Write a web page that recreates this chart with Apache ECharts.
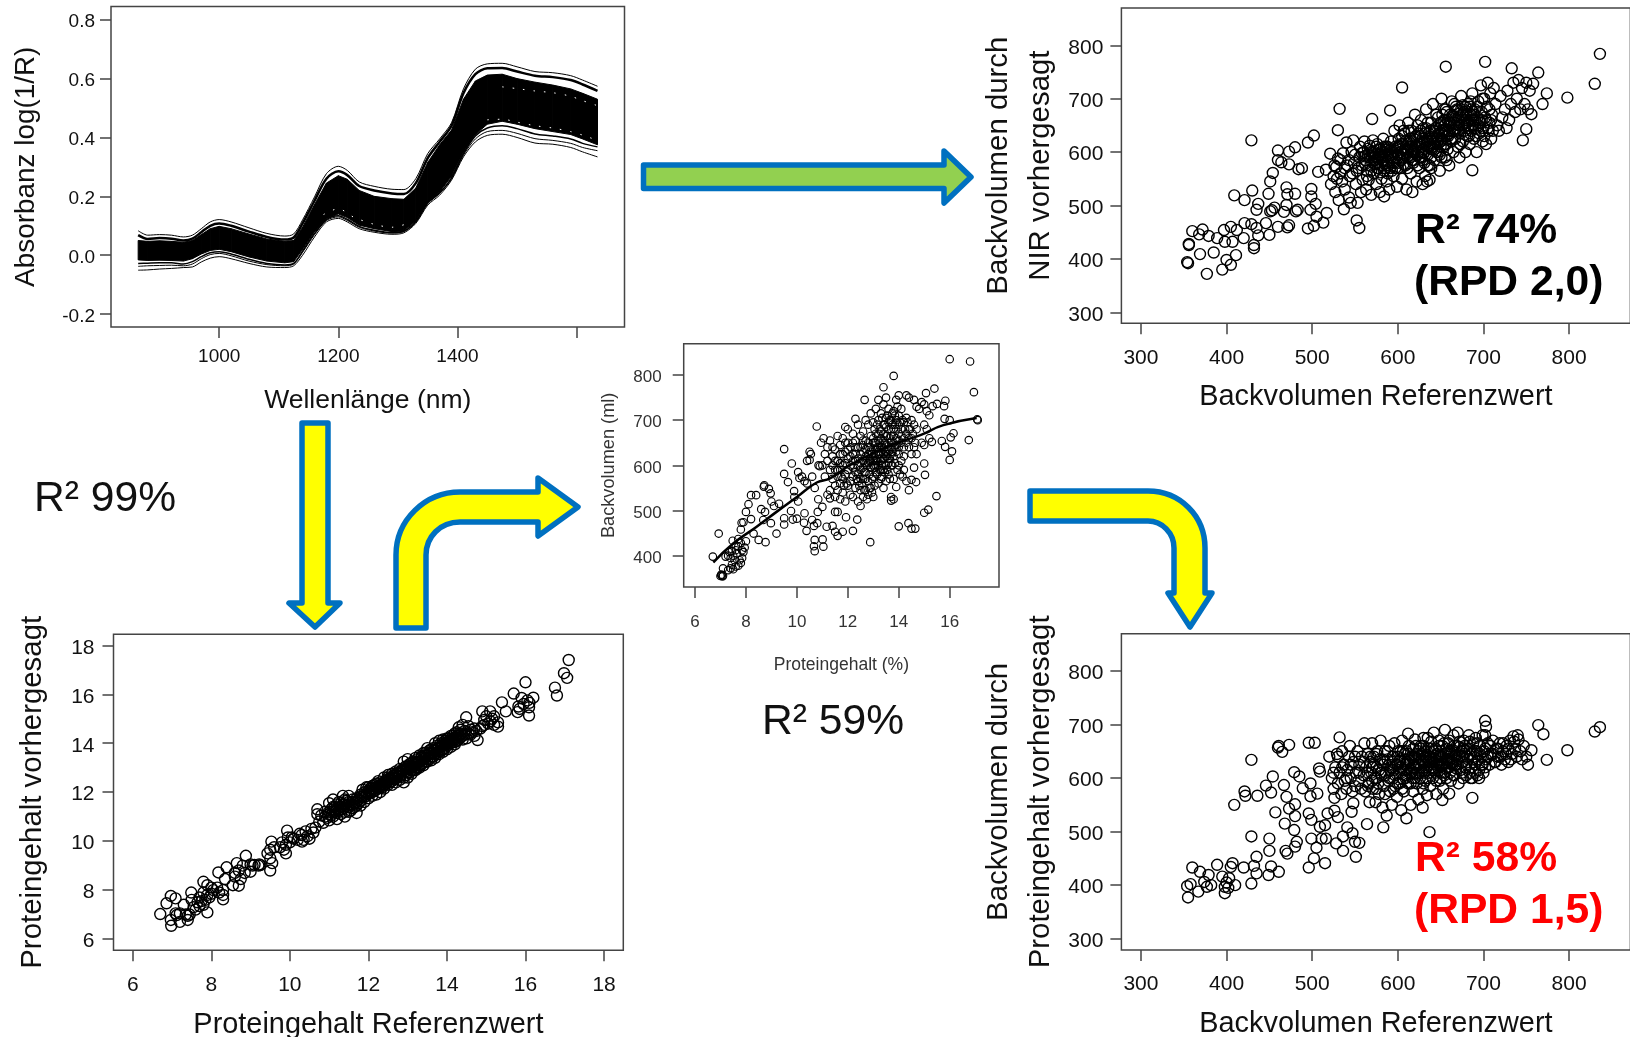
<!DOCTYPE html>
<html>
<head>
<meta charset="utf-8">
<title>Backvolumen</title>
<script src="https://cdn.jsdelivr.net/npm/echarts@6/dist/echarts.min.js"></script>
<style>
html, body { margin: 0; padding: 0; background: #fff; overflow: hidden; }
#chart { width: 1630px; height: 1037px; }
</style>
</head>
<body>
<div id="chart"></div>
<script>
// spectra
const wavelengths = [864,880,900,920,940,955,970,985,1000,1020,1050,1080,1110,1125,1140,1160,1180,1200,1215,1235,1260,1290,1310,1330,1350,1370,1390,1410,1430,1450,1475,1500,1530,1560,1590,1610,1635]
const spectrumTopA = [.083,.068,.07,.068,.062,.068,.09,.113,.121,.113,.093,.074,.065,.072,.12,.198,.277,.302,.288,.249,.234,.224,.223,.26,.345,.395,.45,.565,.632,.65,.652,.64,.624,.62,.61,.595,.574]
const spectrumTopB = [.068,.055,.058,.056,.05,.056,.078,.1,.108,.1,.08,.062,.053,.06,.108,.185,.26,.285,.272,.235,.22,.21,.208,.245,.33,.385,.44,.55,.615,.635,.636,.624,.61,.605,.595,.58,.558]
const spectrumBandHigh = [.05,.047,.049,.047,.044,.05,.07,.09,.098,.09,.072,.055,.047,.05,.095,.172,.245,.27,.258,.22,.2,.192,.19,.228,.315,.375,.425,.53,.592,.612,.615,.6,.588,.578,.565,.55,.53]
const spectrumBandLow = [-.016,-.018,-.017,-.018,-.02,-.012,.004,.016,.02,.012,-.006,-.02,-.026,-.022,.02,.08,.125,.14,.128,.102,.09,.08,.082,.115,.18,.215,.268,.35,.41,.445,.455,.445,.43,.42,.41,.395,.375]
const spectrumLowC = [-.028,-.027,-.026,-.026,-.03,-.022,-.005,.008,.012,.004,-.014,-.028,-.033,-.028,.014,.074,.121,.134,.122,.098,.085,.077,.082,.114,.178,.212,.263,.345,.405,.432,.44,.43,.412,.405,.395,.38,.368]
const spectrumLowB = [-.038,-.036,-.035,-.034,-.036,-.03,-.012,.002,.006,-.002,-.02,-.032,-.036,-.03,.01,.07,.118,.13,.118,.095,.082,.075,.08,.112,.175,.21,.26,.34,.395,.42,.424,.414,.396,.39,.38,.366,.355]
const spectrumLowA = [-.051,-.05,-.047,-.045,-.042,-.04,-.023,-.01,-.005,-.012,-.028,-.04,-.042,-.036,0,.062,.113,.125,.113,.09,.078,.071,.076,.108,.17,.204,.255,.334,.385,.407,.411,.4,.381,.377,.366,.351,.334]
// thin white gaps left in the black mass
const spectrumGapUpper = [[1475,.572],[1500,.566],[1530,.558],[1560,.552],[1590,.54],[1610,.525],[1635,.508]]
const spectrumGapLower = [[1450,.46],[1475,.462],[1500,.452],[1530,.44],[1560,.432],[1590,.42],[1610,.408],[1635,.39]]
const spectrumGapPeak = [[1175,.138],[1200,.158],[1225,.13],[1260,.105],[1290,.095],[1320,.11]]

// Backvolumen Referenzwert / durch NIR vorhergesagt
const nirPoints = [[836,784],[830,728],[798,702],[774,710],[769,690],[764,749],[756,671],[750,643],[746,622],[733,757],[702,769],[656,760],[605,721],[532,681],[530,641],[502,631],[495,618],[570,662],[591,678],[429,622],[460,603],[473,601],[480,609],[460,585],[464,581],[473,577],[484,568],[488,570],[454,561],[451,545],[430,528],[409,519],[421,510],[449,522],[470,534],[471,521],[480,522],[437,503],[435,492],[451,489],[453,491],[456,496],[470,501],[467,488],[481,489],[499,531],[499,517],[507,563],[516,567],[498,492],[504,503],[517,486],[505,479],[502,462],[513,468],[495,457],[483,492],[460,460],[450,445],[471,459],[473,463],[446,467],[421,467],[429,465],[435,458],[437,444],[432,426],[432,420],[405,460],[412,454],[397,454],[420,439],[360,452],[372,455],[368,446],[379,443],[389,439],[398,432],[407,432],[356,426],[356,428],[369,409],[385,412],[354,394],[355,392],[377,372],[395,380],[400,398],[405,389],[411,407],[552,472],[555,458],[687,566],[617,525],[584,517],[634,545],[629,540],[637,548],
[521,597],[525,555],[522,540],[528,572],[527,525],[530,588],[533,560],[531,510],[536,598],[535,545],[538,530],[537,493],[540,618],[541,575],[543,515],[544,555],[546,600],[545,505],[548,622],[549,580],[551,540],[552,565],[553,505],[555,590],[556,610],[557,525],[558,575],[559,548],[560,600],[561,620],[562,585],[563,530],[564,565],[565,595],[566,548],[567,612],[568,575],[569,520],[570,590],[571,622],[572,560],[573,600],[574,585],[575,540],[576,615],[577,570],[578,595],[579,525],[580,605],[581,550],[582,585],[583,625],[584,565],[585,600],[586,575],[587,545],[588,610],[589,590],[590,530],[591,570],[592,620],[593,600],[594,580],[595,555],[596,640],[597,610],[598,590],[599,535],[600,570],[601,625],[602,650],[603,600],[604,585],[605,550],[606,615],[607,595],[608,635],[609,575],[610,530],[611,605],[612,655],[613,620],[614,590],[615,560],[616,640],[617,600],[618,580],[619,625],[620,670],[621,610],[622,545],[623,595],[624,635],[625,570],[626,615],[627,660],[628,600],[629,585],[630,645],[631,620],[632,555],[633,680],[634,610],[635,595],[636,635],[637,575],[638,625],[639,655],[640,605],[641,690],[642,640],[643,585],[644,615],[645,670],[646,630],[647,600],[648,650],[649,565],[650,620],[651,700],[652,640],[653,610],[654,660],[655,590],[656,680],[657,630],[658,605],[659,650],[660,575],[661,670],[662,620],[663,695],[664,640],[665,600],[666,655],[667,625],[668,685],[669,645],[670,610],[671,665],[672,590],[673,635],[674,705],[675,650],[676,620],[677,675],[678,640],[679,600],[680,660],[681,630],[682,690],[683,650],[684,615],[685,670],[686,640],[687,710],[688,660],[689,625],[690,680],[691,645],[692,600],[693,665],[694,695],[695,635],[696,655],[697,725],[698,675],[699,620],[700,645],[701,700],[702,665],[703,615],[704,685],[705,730],[706,640],[707,655],[708,710],[709,625],[710,670],[712,720],[714,690],[716,650],[718,640],[720,705],[722,665],[725,680],[727,645],[728,715],[730,660],[732,690],[735,730],[737,675],[739,700],[741,735],[743,680],[745,720],[748,690],[750,730],[752,680],[758,728],[754,715],
[598,602],[602,612],[606,598],[610,622],[612,605],[616,615],[618,602],[620,628],[622,612],[624,600],[626,630],[628,618],[630,605],[632,635],[634,622],[636,610],[638,640],[640,628],[642,615],[644,645],[646,618],[648,635],[650,655],[652,625],[654,642],[656,615],[658,660],[660,635],[662,650],[664,668],[666,642],[668,660],[670,678],[672,650],[674,665],[676,688],[678,655],[680,672],[682,645],[684,685],[686,660],[688,675],[690,650],[570,600],[574,592],[576,580],[578,605],[580,590],[582,575],[584,598],[586,610],[588,582],[590,602],[592,590],
[562,578],[565,606],[567,590],[569,565],[571,598],[573,578],[575,610],[577,590],[579,562],[581,600],[583,582],[585,570],[587,605],[589,575],[591,595],[593,565],[595,588],[597,570],[599,608],[561,592],[564,555],[568,600],[572,585],[576,570],[580,595],[584,610],[588,560],[592,605],[596,580],[558,598],[554,570],[550,595],[547,560],[543,585],[538,570],[533,585],[529,550],[526,575],
[600,595],[601,580],[603,615],[605,630],[607,578],[609,605],[611,590],[613,640],[615,610],[617,585],[619,600],[621,630],[623,575],[625,615],[627,590],[629,625],[631,600],[633,645],[635,575],[637,610],[639,590],[641,625],[643,640],[645,600],[647,620],[649,595],[651,635],[653,655],[655,615],[657,585],[603,570],[607,640],[611,570],[615,625],[619,585],[623,650],[627,640],[631,580],[635,655],[639,570],[643,605],[647,665],[651,590],[655,640],[600,610],[605,590],[610,600],[615,595],[620,605],[625,590],[630,598],[635,620],[640,610],[645,625],[650,610],
[652,670],[655,650],[657,675],[659,630],[661,655],[663,625],[665,665],[667,640],[669,680],[671,650],[673,615],[675,670],[677,645],[679,685],[681,655],[683,630],[685,695],[687,650],[689,670],[691,630],[693,685],[695,660],[697,640],[699,700],[701,630],[703,660],[705,645],[707,680],[709,660],[711,640],[654,680],[658,640],[662,660],[666,690],[670,640],[674,680],[678,660],[682,670],[686,680],[690,660],[694,650],[698,660]]

// Proteingehalt (%) / Backvolumen (ml)
const proteinPoints = [[16,835],[16.8,830],[16.95,762],[13.8,798],[13.4,773],[15.4,770],[15.07,760],[12.66,745],[15.83,743],[15.5,736],[15.78,731],[15.33,731],[15.2,711],[15.8,703],[16,700],[17.08,702],[17.1,700],[16.15,671],[16.04,662],[16.75,656],[15.69,654],[15.82,641],[16.09,631],[16,612],[15,604],[15.03,579],[14.68,563],[15.48,532],[15.16,502],[15,495],[14,465],[14.38,472],[14.5,460],[14.65,460],[12.88,430],[10.78,686],[9.5,636],[9.8,604],[9.5,581],[9.65,563],[8.7,553],[8.72,556],[8.9,548],[8.97,538],[8.2,534],[8.4,534],[8.1,514],[8.6,503],[8.75,497],[8,497],[8.2,481],[7.83,473],[7.9,474],[7.8,458],[8.3,449],[8.5,435],[8.77,430],[8,432],[6.93,449],[6.7,398],[7.48,433],[7.7,437],[9.2,449],[8.98,472],[8.68,479],[9.77,499],[9.89,543],[9.5,483],[9.5,469],[9.84,480],[10,482],[10.3,494],[10.38,455],[10.28,473],[10.6,479],[10.8,472],[10.67,466],[10.7,435],[10.67,421],[10.7,410],[11.01,436],[11.04,420],[11.17,464],[11.4,466],[11.5,453],[11.6,444],[11.8,453],[12.2,455],[12.37,480],[11.93,485],[10.82,497],[11,508],[10.84,525],[11.3,527],[11.5,497],[11.6,497],
[7,355],[7.03,358],[7.05,356],[7.08,354],[7.1,356],[7.1,372],[7.3,368],[7.4,372],[7.45,380],[7.5,370],[7.6,376],[7.7,378],[7.8,384],[7.75,390],[7.85,395],[7.4,395],[7.5,400],[7.55,390],[7.3,400],[7.2,398],[7.35,408],[7.45,410],[7.6,412],[7.65,405],[7.7,420],[7.85,412],[7.9,408],[7.95,418],[7.8,428],[7.6,422],[9,520],[9.3,515],[9.1,510],[9.9,530],[10.05,520],[10.05,585],[10.1,572],[10.2,575],[10.3,565],[10.4,610],[10.5,612],[10.5,630],[10.55,625],[10.4,560],[10.6,575],[10.7,550],[10.85,600],[10.9,598],[10.95,650],[11.05,660],[11.2,535],
[11,600],[11.1,625],[11.1,575],[11.2,640],[11.2,610],[11.3,590],[11.3,545],[11.3,655],[11.4,620],[11.4,600],[11.4,570],[11.5,635],[11.5,590],[11.5,555],[11.5,530],[11.6,665],[11.6,610],[11.6,575],[11.6,545],[11.7,645],[11.7,625],[11.7,590],[11.7,560],[11.7,525],[11.8,660],[11.8,600],[11.8,570],[11.8,540],[11.9,685],[11.9,630],[11.9,605],[11.9,580],[11.9,520],[12,680],[12,650],[12,615],[12,590],[12,555],[12.1,640],[12.1,600],[12.1,565],[12.1,535],[12.2,670],[12.2,625],[12.2,595],[12.2,575],[12.2,530],[12.3,703],[12.3,655],[12.3,610],[12.3,585],[12.3,550],[12.4,690],[12.4,640],[12.4,600],[12.4,565],[12.4,520],[12.5,665],[12.5,625],[12.5,590],[12.5,545],[12.5,510],[12.6,675],[12.6,645],[12.6,610],[12.6,570],[12.6,530],[12.7,700],[12.7,655],[12.7,620],[12.7,585],[12.7,545],[12.8,690],[12.8,640],[12.8,605],[12.8,565],[12.8,535],[12.9,715],[12.9,665],[12.9,630],[12.9,595],[12.9,550],[13,695],[13,650],[13,620],[13,600],[13,575],[13,530],[13.1,725],[13.1,670],[13.1,635],[13.1,610],[13.1,585],[13.2,745],[13.2,700],[13.2,655],[13.2,625],[13.2,600],[13.2,560],[13.3,715],[13.3,675],[13.3,640],[13.3,610],[13.3,570],[13.4,735],[13.4,690],[13.4,655],[13.4,625],[13.4,590],[13.4,550],[13.5,750],[13.5,705],[13.5,665],[13.5,630],[13.5,600],[13.5,565],[13.6,725],[13.6,680],[13.6,650],[13.6,615],[13.6,580],[13.7,700],[13.7,665],[13.7,640],[13.7,600],[13.7,530],[13.7,522],[13.8,720],[13.8,680],[13.8,650],[13.8,620],[13.8,570],[13.8,525],[13.9,745],[13.9,700],[13.9,660],[13.9,630],[13.9,552],[14,755],[14,710],[14,670],[14,640],[14,600],[14.1,725],[14.1,680],[14.1,650],[14.1,610],[14.2,695],[14.2,660],[14.2,620],[14.2,590],[14.3,755],[14.3,705],[14.3,670],[14.3,565],[14.4,750],[14.4,680],[14.4,640],[14.4,545],[14.5,700],[14.5,660],[14.5,625],[14.5,568],[14.6,745],[14.6,690],[14.6,640],[14.6,595],[14.7,730],[14.7,680],[14.7,625],[14.8,725],[14.9,740],[14.9,650],[15,735],[15,690],[15,645],[15.1,680],[15.1,720],[15.2,660],[15.3,652],
[12.8,625],[12.85,610],[12.9,640],[12.95,625],[13,635],[13,612],[13.05,650],[13.05,595],[13.1,625],[13.1,650],[13.15,610],[13.15,640],[13.2,630],[13.2,670],[13.25,615],[13.25,650],[13.3,660],[13.3,625],[13.35,640],[13.35,600],[13.4,670],[13.4,635],[13.45,650],[13.45,615],[13.5,685],[13.5,645],[13.55,625],[13.55,665],[13.6,635],[13.6,695],[13.65,660],[13.65,615],[13.7,680],[13.7,650],[13.75,630],[13.75,690],[13.8,665],[13.85,640],[13.85,710],[13.9,680],[14,690],[14,655],[12.2,610],[12.3,625],[12.4,615],[12.5,605],[12.6,595],[12.7,605],[12.6,630],[12.4,580],[12.5,570],[12.7,570],
[12.5,640],[12.6,655],[12.7,635],[12.8,650],[12.9,610],[13,660],[13.1,600],[13.2,640],[13.3,590],[13.4,615],[13.5,620],[13.6,605],[13.7,625],[13.8,640],[13.9,645],[14,625],[14.1,665],[14.2,640],[14.3,650],[14.4,660],[12.3,640],[12.2,650],[12.1,620],[12,635],[11.9,650],[11.8,625],[11.7,605],[11.6,590],[11.5,610],[11.4,640],[13.05,680],[13.15,690],[13.25,680],[13.35,705],[13.45,690],[13.55,710],[13.65,700],[13.75,715],[13.85,690],[13.95,730],[14.05,695],[14.15,700],[14.25,680],[14.35,695],[14.45,680],[14.55,670],[14.65,650],[12.65,585],[12.75,600],[12.85,580],[12.95,570],[13.05,610],[13.15,580],[13.25,590],[13.35,575],[13.45,585],[13.55,590],[13.65,570],[13.75,600],[13.85,605],[13.95,590],[14.05,580],[14.15,575],[12.35,570],[12.45,555],[12.55,560],[12.65,545],[12.75,525],[12.85,550],[12.95,540],[13.05,555],[11.95,560],[11.85,555],[11.75,575]]

// Proteingehalt Referenzwert / vorhergesagt
const proteinPredPoints = [[17.1,17.4],[16.98,16.86],[17.06,16.67],[16.75,16.27],[16.8,15.95],[16,16.49],[16.2,15.86],[15.7,16.03],[15.4,15.67],[15.5,15.3],[15.8,15.27],[16.09,15.13],[16.09,15.47],[15.82,15.5],[15.9,15.85],[16.05,15.75],[16.1,15.65],[15.95,15.6],[15.85,15.4],[14.49,15.06],[15.3,14.68],[14.78,14.13],[15.3,14.85],[15.1,15.3],[14.9,15.3],[15,15.1],[14.95,14.95],[15.15,15],[15.05,14.8],[14.9,14.7],[15.2,15.1],[14.7,14.6],[14.6,14.55],[14.5,14.2],
[6.7,7.02],[6.97,7.76],[7.09,7.66],[6.86,7.46],[6.97,6.78],[6.98,6.54],[7.2,6.7],[7.4,6.78],[7.09,7.05],[7.2,7.05],[7.12,6.98],[7.3,7.4],[7.35,7],[7.4,6.95],[7.45,7],[7.9,7.09],[7.49,7.9],[7.8,8.34],[8.3,7.62],[8.7,8.18],[8.88,9.4],[8.39,8.93],[8.18,8.72],[9.5,8.8],[9.53,9.98],[9.9,9.5],[9.93,10.43],[10.31,9.98],[7.5,7.6],[7.55,7.3],[7.6,7.2],[7.65,7.5],[7.7,7.35],[7.7,7.7],[7.75,7.55],[7.8,7.4],[7.8,7.9],[7.85,7.6],[7.9,8.2],[7.9,7.8],[7.95,7.7],[8,8.1],[8,7.85],[8.05,8],[8.15,8.1],[8.2,7.9],[8.3,8],[8.35,8.45],[8.3,7.8],[8.55,8.2],[8.6,8.55],[8.6,8.7],[8.65,9.1],[8.7,8.8],[8.75,8.45],[8.8,9],[8.85,8.7],[9,9.05],[9,8.75],[9.05,9],[9.1,9.03],[9.2,9],[9.22,9.05],[9.25,9.02],[9.43,9.5],[9.5,9.3],[9.5,9.65],[9.55,9.1],[9.6,9.75],[9.75,9.75],[9.8,9.95],[9.85,9.65],[9.9,9.85],[9.95,10.15],[10,9.95],[10.05,10.15],[10.1,10.1],[10.2,10.05],[10.25,10.3],[10.3,10.25],[10.35,10.05],[10.4,10.4],[10.45,10.2],[10.5,10.1],[10.55,10.5],[10.6,10.35],[10.65,10.55],
[10.7,11.3],[10.7,11.1],[10.75,10.8],[10.8,11.05],[10.85,10.75],[10.9,11.2],[10.95,10.95],[11,11.55],[11,11.1],[11,10.85],[11.05,11.3],[11.1,11],[11.1,11.7],[11.15,11.4],[11.2,11.15],[11.2,10.9],[11.25,11.6],[11.3,11.3],[11.3,11.1],[11.35,11.5],[11.35,11.85],[11.4,11.2],[11.4,11],[11.45,11.65],[11.5,11.4],[11.5,11.85],[11.55,11.25],[11.6,11.6],[11.65,11.4],[11.7,11.75],[11.7,11.15],[11.75,11.55],[11.8,11.9],[11.8,11.65],[11.85,12.1],[11.9,11.8],[11.9,11.6],[11.95,12.2],[12,11.95],[12,11.75],[12.05,12.15],[12.1,12],[12.1,11.85],[12.15,12.3],[12.2,12.1],[12.2,11.9],[12.25,12.45],[12.3,12.2],[12.3,12],[12.35,12.35],[12.4,12.6],[12.4,12.15],[12.45,12.45],[12.5,12.3],[12.5,12.7],[12.55,12.5],[12.6,12.3],[12.6,12.75],[12.65,12.55],[12.7,12.4],[12.7,12.85],[12.75,12.65],[12.8,12.5],[12.8,12.95],[12.85,12.75],[12.9,12.4],[12.9,13.25],[12.95,12.85],[13,12.6],[13,13.05],[13,13.35],[13.05,12.95],[13.1,12.75],[13.1,13.2],[13.15,13.05],[13.2,13.4],[13.2,12.9],[13.25,13.2],[13.3,13],[13.3,13.5],[13.35,13.3],[13.4,13.1],[13.4,13.6],[13.45,13.4],[13.5,13.25],[13.5,13.8],[13.55,13.55],[13.6,13.3],[13.6,13.75],[13.65,13.6],[13.7,13.4],[13.7,14],[13.75,13.75],[13.8,13.55],[13.8,14.1],[13.85,13.85],[13.9,13.65],[13.9,14.15],[13.95,13.95],[14,13.75],[14,14.2],[14.05,14.05],[14.1,13.85],[14.1,14.3],[14.15,14.15],[14.2,13.95],[14.2,14.4],[14.25,14.25],[14.3,14.65],[14.35,14.4],[14.4,14.15],[14.4,14.75],[14.45,14.5],[14.6,14.35],[14.55,14.7],[14.7,14.3],
[11.6,11.5],[11.7,11.6],[11.8,11.8],[11.9,11.9],[12,12.05],[12.1,12.15],[12.2,12.2],[12.3,12.3],[12.4,12.4],[12.5,12.5],[12.6,12.6],[12.7,12.7],[12.8,12.8],[12.9,12.9],[13,12.95],[13.1,13.05],[13.2,13.15],[13.3,13.25],[13.4,13.35],[13.5,13.5],[13.6,13.6],[13.7,13.7],[13.8,13.8],[13.9,13.9],[14,14],[14.1,14.1],[14.2,14.2],[14.3,14.3],
[10.9,11],[11,11.2],[11.1,11.2],[11.2,11.3],[11.3,11.4],[11.4,11.5],[11.5,11.6],[11.6,11.7],[11.1,11.4],[11.2,11.5],[11.3,11.55],[11.4,11.7],[11.5,11.2],[11.6,11.35],[11.7,11.45],[11.8,11.45],[11.9,12],[12,12.2],[12.1,12.25],[12.2,12.35],[12.3,12.4],[12.4,12.3],[12.5,12.6],[12.6,12.45],[12.7,12.55],[12.8,12.65],[12.9,12.6],[13,12.8],[13.1,12.9],[13.2,13],[13.3,13.1],[13.4,13.2],[13.5,13.35],[13.6,13.45],[13.7,13.55],[13.8,13.65],[13.9,13.75],[14,13.9],[14.1,14],[14.2,14.05],[14.3,14.15],[14.4,14.3],
[12.05,12],[12.15,12.05],[12.25,12.15],[12.35,12.2],[12.45,12.35],[12.55,12.4],[12.65,12.65],[12.75,12.8],[12.85,12.9],[12.95,13.05],[13.05,13.15],[13.15,13.25],[13.25,13.35],[13.35,13.45],[13.45,13.6],[13.55,13.7],[13.65,13.8],[13.75,13.9],[13.85,14],[13.95,14.1],[14.05,14.2],[14.15,14.3],[14.25,14.45],[14.35,14.55],[12.95,12.7],[13.05,12.8],[13.15,12.9],[13.25,13],[13.35,13.15],[13.45,13.25],[13.55,13.35],[13.65,13.45],[13.75,13.6],[13.85,13.7],[13.95,13.8],[14.05,13.95],[14.15,14.05],[14.25,14.1],[14.35,14.25],[14.45,14.35],[14.55,14.4],[14.65,14.45],[14.75,14.5],[14.85,14.6],[14.95,14.75],[15.1,14.9],[15.2,14.75],
[11.05,11.05],[11.15,11.2],[11.25,11.25],[11.35,11.3],[11.45,11.45],[11.55,11.5],[11.65,11.55],[11.75,11.7],[11.85,11.8],[11.95,11.85],[12.05,12.05],[12.15,12.15],[12.25,12.25],[12.35,12.3],[12.45,12.5],[12.55,12.55],[12.65,12.7],[12.75,12.75],[12.85,12.85],[12.95,12.95],[13.05,13.05],[13.15,13.15],[13.25,13.25],[13.35,13.4],[13.45,13.5],[13.55,13.6],[13.65,13.7],[13.75,13.8],[13.85,13.9],[13.95,14],[14.05,14.1],[14.15,14.2],[14.25,14.3],[14.35,14.35]]

// Backvolumen Referenzwert / durch Proteingehalt vorhergesagt
const proteinPredVolumePoints = [[836,695],[830,687],[798,652],[774,634],[770,682],[764,699],[702,707],[703,696],[702,680],[612,683],[532,676],[496,666],[503,666],[473,662],[460,657],[461,660],[465,649],[429,634],[687,563],[652,559],[660,571],[637,499],[629,545],[583,508],[564,514],[409,550],[421,575],[422,567],[436,567],[446,586],[454,603],[452,573],[467,587],[470,565],[457,536],[473,543],[480,551],[480,529],[468,515],[479,503],[429,491],[450,487],[450,464],[435,453],[471,459],[469,464],[480,472],[482,481],[479,611],[485,603],[489,581],[498,590],[498,566],[506,571],[508,618],[509,612],[496,534],[499,522],[509,509],[515,512],[499,487],[511,487],[516,487],[505,470],[502,450],[496,433],[515,441],[528,478],[536,464],[536,491],[547,497],[541,508],[550,481],[555,479],[551,453],[518,534],[526,539],[530,527],[548,553],[546,537],[526,563],[360,433],[369,425],[374,406],[379,419],[389,438],[407,441],[420,433],[432,436],[435,422],[429,403],[449,419],[452,435],[461,425],[354,398],[355,377],[358,402],[367,388],[377,397],[382,400],[395,416],[398,385],[403,413],[410,400],[398,397],[405,434],[400,405],[402,395],
[520,640],[523,600],[525,580],[527,620],[529,645],[530,590],[532,610],[534,570],[535,650],[537,625],[538,595],[540,580],[541,615],[543,640],[544,660],[545,600],[547,575],[548,630],[550,585],[551,610],[553,650],[554,595],[555,625],[557,580],[558,640],[560,605],[561,665],[562,575],[563,620],[565,645],[566,590],[567,555],[568,630],[569,610],[570,665],[571,580],[572,640],[573,600],[574,555],[575,620],[576,650],[577,590],[578,570],[579,635],[580,670],[581,605],[582,545],[583,625],[584,585],[585,650],[586,610],[587,530],[588,635],[589,595],[590,660],[591,575],[592,620],[593,550],[594,640],[595,600],[596,665],[597,585],[598,625],[599,565],[600,650],[601,610],[602,590],[603,635],[604,540],[605,670],[606,615],[607,575],[608,645],[609,600],[610,525],[611,630],[612,590],[613,660],[614,610],[615,550],[616,640],[617,600],[618,575],[619,625],[620,672],[621,610],[622,590],[623,645],[624,560],[625,625],[626,600],[627,660],[628,635],[629,580],[630,615],[631,650],[632,595],[633,630],[634,568],[635,675],[636,610],[637,640],[638,585],[639,620],[640,655],[641,600],[642,685],[643,630],[644,610],[645,570],[646,645],[647,620],[648,670],[649,595],[650,635],[651,610],[652,660],[653,580],[654,625],[655,690],[656,645],[657,600],[658,620],[659,665],[660,640],[661,610],[662,595],[663,650],[664,630],[665,680],[666,605],[667,640],[668,625],[669,660],[670,685],[671,590],[672,640],[673,615],[674,650],[675,630],[676,600],[677,670],[678,645],[679,620],[680,605],[681,655],[682,635],[683,680],[684,610],[685,645],[686,620],[687,600],[688,665],[689,640],[690,625],[691,675],[692,650],[693,605],[694,635],[695,615],[696,660],[697,640],[698,625],[699,680],[700,610],[701,650],[703,635],[705,665],[707,625],[709,645],[711,670],[713,630],[715,655],[717,640],[719,665],[721,625],[723,650],[725,635],[727,660],[729,630],[731,670],[733,645],[735,678],[737,655],[739,640],[741,672],[743,650],[745,635],[747,660],[750,640],[752,625],[756,652],[740,680],[736,668],
[600,625],[604,610],[608,635],[612,620],[616,610],[620,640],[624,625],[628,612],[632,640],[636,625],[640,630],[644,642],[648,625],[652,640],[656,618],[660,650],[664,625],[668,642],[672,658],[676,630],[632,612],[638,640],[642,618],[646,632],[650,650],[654,605],[658,635],[662,628],[606,598],[610,605],[614,632],[618,620],[622,608],[626,642],[630,630],[634,650],[570,620],[580,610],[590,625],[595,615],[585,630],[575,600],
[565,610],[568,640],[572,625],[575,645],[578,615],[582,635],[585,605],[588,650],[591,615],[594,630],[597,605],[600,640],[603,620],[606,650],[609,625],[612,645],[615,615],[618,655],[621,635],[624,650],[627,620],[630,660],[633,640],[636,655],[639,635],[642,650],[645,625],[648,660],[651,640],[654,665],[657,635],[660,670],[663,645],[666,660],[669,635],[672,668],[675,650],[678,660],[681,640],[684,655],[687,635],[690,650],[693,665],[696,645],[699,625],[702,655],[705,640],[708,660],[711,645],[714,630],[717,655],[720,640],[723,665],[726,645],[729,655],[732,635],
[600,590],[605,580],[610,615],[615,590],[620,600],[625,610],[630,590],[635,600],[640,615],[645,595],[650,600],[655,610],[660,620],[665,605],[670,625],[675,610],[680,625],[685,600],[690,610],[695,600],[585,570],[590,600],[595,580],[575,580],[570,595],[565,585],[560,630],[555,610],[550,640],[545,625],[540,600],[535,620],[530,640],[525,610],[603,650],[612,635],[621,660],[630,675],[639,668],[648,640],[657,655],[666,648],[675,640],[684,668],[693,632],[702,620],[620,620],[628,645],[636,632],[644,655],[652,628],[660,632],[668,618],[676,655],[634,620],[642,637],[650,622],[658,648],[626,655],[618,638],[610,650],[602,632]]

// spline through the points of the protein / volume plot
const smoothLine = [[6.72,385],[7.5,427],[8.42,464],[9.2,497],[10,530],[10.78,562],[11.3,571],[12.1,601],[13,627],[13.9,649],[14.85,667],[15.75,689],[17.06,705]]

// tick values
const spectraXTicks = [1000,1200,1400,1600]
const spectraXLabels = [1000,1200,1400]
const spectraYTicks = [-0.2,0,0.2,0.4,0.6,0.8]
const volumeTicks = [300,400,500,600,700,800]
const proteinTicksMid = [6,8,10,12,14,16]
const volumeTicksMid = [400,500,600,700,800]
const proteinTicks = [6,8,10,12,14,16,18]

const FONT = '"Liberation Sans", Arial, sans-serif'
const AXIS = '#444'
const OUTLINE = '#0070C0'

const chart = echarts.init(document.getElementById('chart'), null, { renderer: 'canvas' })

function xAxis(idx, o) {
    return {
        type: 'value', gridIndex: idx, min: o.min, max: o.max, name: o.name,
        nameLocation: 'middle', nameGap: o.nameGap,
        nameTextStyle: { fontFamily: FONT, fontSize: o.nameSize, color: o.color || '#111' },
        splitLine: { show: false },
        axisLine: { show: false, onZero: false },
        axisTick: { show: true, length: o.tick || 11, customValues: o.ticks, lineStyle: { color: AXIS, width: 1.5 } },
        axisLabel: { customValues: o.labels || o.ticks, fontFamily: FONT, fontSize: o.size, color: o.color || '#111', margin: o.margin, formatter: o.formatter || (v => String(v)) }
    }
}

function yAxis(idx, o) {
    return {
        type: 'value', gridIndex: idx, min: o.min, max: o.max, name: o.name,
        nameLocation: 'middle', nameGap: o.nameGap, nameRotate: 90,
        nameTextStyle: { fontFamily: FONT, fontSize: o.nameSize, color: o.color || '#111', lineHeight: o.nameLine || o.nameSize },
        splitLine: { show: false },
        axisLine: { show: false, onZero: false },
        axisTick: { show: true, length: o.tick || 11, customValues: o.ticks, lineStyle: { color: AXIS, width: 1.5 } },
        // labels sit a little under their ticks in the original
        axisLabel: { customValues: o.ticks, fontFamily: FONT, fontSize: o.size, color: o.color || '#111', margin: o.margin, verticalAlign: 'top', lineHeight: 5, formatter: o.formatter || (v => String(v)) }
    }
}

function circles(idx, points, size, border) {
    return {
        type: 'scatter', xAxisIndex: idx, yAxisIndex: idx, data: points, symbol: 'circle', symbolSize: size,
        itemStyle: { color: 'rgba(0,0,0,0)', borderColor: '#000', borderWidth: border, opacity: 1 },
        silent: true, large: false
    }
}

function spectrumLine(values, width) {
    return {
        type: 'line', xAxisIndex: 0, yAxisIndex: 0, showSymbol: false, silent: true, smooth: 0.3,
        data: wavelengths.map((w, i) => [w, values[i]]),
        lineStyle: { color: '#000', width: width }
    }
}

function spectrumGap(points) {
    return {
        type: 'line', xAxisIndex: 0, yAxisIndex: 0, showSymbol: false, silent: true, smooth: 0.3, data: points,
        lineStyle: { color: '#fff', width: 1, type: [1.5, 9] }
    }
}

// outerBoundsMode none: v6 would otherwise shrink a grid whose axis name nears the canvas edge
function box(x, y, width, height) {
    return { left: x, top: y, width: width, height: height, show: true, outerBoundsMode: 'none', backgroundColor: '#fff', borderColor: AXIS, borderWidth: 1.5 }
}

// the graphic component has no plain path type, so each arrow is registered as a shape
function arrow(name, pathData, fill) {
    echarts.graphic.registerShape(name, echarts.graphic.extendPath(pathData))
    return { type: name, style: { fill: fill, stroke: OUTLINE, lineWidth: 5.5, lineJoin: 'round' }, silent: true }
}

function label(x, y, text, bold, color) {
    return {
        type: 'text', x: x, y: y, silent: true,
        style: { text: text, fill: color || '#111', font: (bold ? 'bold ' : '') + '42.6px ' + FONT, textAlign: 'left', textVerticalAlign: 'middle' }
    }
}

const option = {
    animation: false,
    backgroundColor: '#fff',
    grid: [
        box(111, 6.5, 513.5, 320.5),
        box(1121.4, 8, 509, 315.3),
        box(683.7, 343.7, 315.3, 243.3),
        box(113.5, 634.3, 509.8, 316),
        box(1121.4, 633.7, 509, 316.3)
    ],
    xAxis: [
        xAxis(0, { min: 818.4, max: 1680.3, name: 'Wellenlänge (nm)', nameGap: 60, nameSize: 26.5, ticks: spectraXTicks, labels: spectraXLabels, size: 19, margin: 20 }),
        xAxis(1, { min: 277.2, max: 871.6, name: 'Backvolumen Referenzwert', nameGap: 59, nameSize: 28.9, ticks: volumeTicks, size: 21, margin: 24 }),
        xAxis(2, { min: 5.556, max: 17.936, name: 'Proteingehalt (%)', nameGap: 69, nameSize: 17.5, ticks: proteinTicksMid, size: 17, margin: 27, color: '#333' }),
        xAxis(3, { min: 5.51, max: 18.49, name: 'Proteingehalt Referenzwert', nameGap: 60, nameSize: 28.9, ticks: proteinTicks, size: 21, margin: 24 }),
        xAxis(4, { min: 277.2, max: 871.6, name: 'Backvolumen Referenzwert', nameGap: 60, nameSize: 28.9, ticks: volumeTicks, size: 21, margin: 24 })
    ],
    yAxis: [
        yAxis(0, { min: -0.244, max: 0.845, name: 'Absorbanz log(1/R)', nameGap: 71, nameSize: 27.9, ticks: spectraYTicks, size: 19, margin: 16, formatter: v => v.toFixed(1) }),
        yAxis(1, { min: 279.4, max: 869.9, name: 'Backvolumen durch\nNIR vorhergesagt', nameGap: 60, nameSize: 29.4, nameLine: 41.5, ticks: volumeTicks, size: 21, margin: 18 }),
        yAxis(2, { min: 330.7, max: 869.3, name: 'Backvolumen (ml)', nameGap: 66, nameSize: 18.2, ticks: volumeTicksMid, size: 17, margin: 22, color: '#333' }),
        yAxis(3, { min: 5.54, max: 18.45, name: 'Proteingehalt vorhergesagt', nameGap: 66, nameSize: 29.4, ticks: proteinTicks, size: 21, margin: 19 }),
        yAxis(4, { min: 278.9, max: 869.7, name: 'Backvolumen durch\nProteingehalt vorhergesagt', nameGap: 60, nameSize: 29.4, nameLine: 41.5, ticks: volumeTicks, size: 21, margin: 18 })
    ],
    series: [
        {
            // black mass of the spectra, filled between the two band edges
            type: 'custom', xAxisIndex: 0, yAxisIndex: 0, silent: true,
            data: wavelengths.map((w, i) => [w, spectrumBandLow[i], spectrumBandHigh[i]]),
            renderItem: function (params, api) {
                const i = params.dataIndex
                if (i >= wavelengths.length - 1) return
                return {
                    type: 'polygon',
                    shape: { points: [
                        api.coord([wavelengths[i], spectrumBandHigh[i]]),
                        api.coord([wavelengths[i + 1], spectrumBandHigh[i + 1]]),
                        api.coord([wavelengths[i + 1], spectrumBandLow[i + 1]]),
                        api.coord([wavelengths[i], spectrumBandLow[i]])
                    ] },
                    style: { fill: '#000', stroke: '#000', lineWidth: 1 }
                }
            }
        },
        spectrumLine(spectrumTopA, 1),
        spectrumLine(spectrumTopB, 2.5),
        spectrumLine(spectrumLowC, 1.5),
        spectrumLine(spectrumLowB, 1),
        spectrumLine(spectrumLowA, 1),
        spectrumGap(spectrumGapUpper),
        spectrumGap(spectrumGapLower),
        spectrumGap(spectrumGapPeak),
        circles(1, nirPoints, 11, 1.4),
        circles(2, proteinPoints, 7.5, 1.15),
        {
            type: 'line', xAxisIndex: 2, yAxisIndex: 2, data: smoothLine, smooth: true, showSymbol: false, silent: true,
            lineStyle: { color: '#000', width: 2.5 }
        },
        circles(3, proteinPredPoints, 11, 1.4),
        circles(4, proteinPredVolumePoints, 11, 1.4)
    ],
    graphic: [
        arrow('arrowDown', 'M302 423 L328 423 L328 603 L340 603 L315 627 L289 603 L302 603 Z', '#FFFF00'),
        arrow('arrowBendRight', 'M396 628 L396 555 C396 520 425 492 460 492 L538 492 L538 478 L578 507 L538 536 L538 522 L460 522 C440 522 426 537 426 555 L426 628 Z', '#FFFF00'),
        arrow('arrowGreen', 'M643.5 165 L944 165 L944 151 L971 177 L944 203 L944 188.5 L643.5 188.5 Z', '#92D050'),
        arrow('arrowBendDown', 'M1030 491 L1148 491 C1180 491 1205 516 1205 548 L1205 593 L1212 593 L1190 627 L1168 593 L1174 593 L1174 548 C1174 533 1162 521 1148 521 L1030 521 Z', '#FFFF00'),
        label(34, 499, 'R² 99%'),
        label(762, 722, 'R² 59%'),
        label(1415, 231, 'R² 74%', true, '#000'),
        label(1414, 283, '(RPD 2,0)', true, '#000'),
        label(1415, 859, 'R² 58%', true, '#FF0000'),
        label(1414, 911, '(RPD 1,5)', true, '#FF0000')
    ]
}

chart.setOption(option)
</script>
</body>
</html>
